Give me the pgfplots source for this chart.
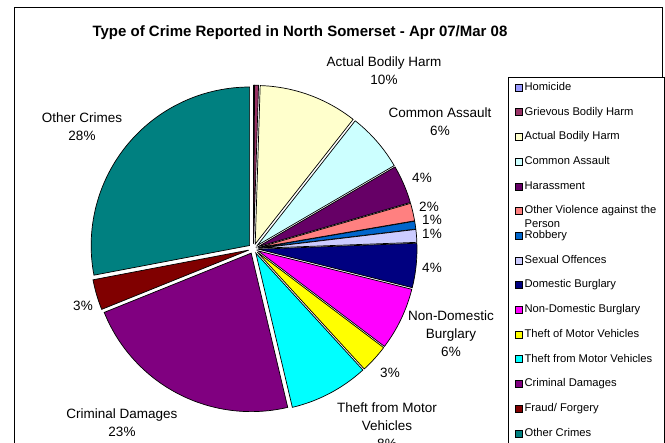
\documentclass[border=0pt]{standalone}
\usepackage{pgfplots}
\pgfplotsset{compat=1.18}
\usepackage{pgfplotstable}
\usepackage{fontspec}
\setmainfont{Liberation Sans}

\definecolor{c0}{HTML}{9999FF}
\definecolor{c1}{HTML}{993366}
\definecolor{c2}{HTML}{FFFFCC}
\definecolor{c3}{HTML}{CCFFFF}
\definecolor{c4}{HTML}{660066}
\definecolor{c5}{HTML}{FF8080}
\definecolor{c6}{HTML}{0066CC}
\definecolor{c7}{HTML}{CCCCFF}
\definecolor{c8}{HTML}{000080}
\definecolor{c9}{HTML}{FF00FF}
\definecolor{c10}{HTML}{FFFF00}
\definecolor{c11}{HTML}{00FFFF}
\definecolor{c12}{HTML}{800080}
\definecolor{c13}{HTML}{800000}
\definecolor{c14}{HTML}{008080}

% share of reported crime, percent
\pgfplotstableread[col sep=comma]{
idx,value
0,0.1
1,0.4
2,10.1
3,6.0
4,3.9
5,1.8
6,0.8
7,1.3
8,4.5
9,6.4
10,2.9
11,8.1
12,22.6
13,3.1
14,28.0
}\crimedata

\def\cum{0}
\pgfplotsforeachungrouped \i in {0,...,14}{%
  \pgfplotstablegetelem{\i}{value}\of\crimedata
  \let\val\pgfplotsretval
  \pgfmathsetmacro\angA{90-3.6*\cum}%
  \pgfmathsetmacro\cum{\cum+\val}%
  \pgfmathsetmacro\angB{90-3.6*\cum}%
  \pgfmathsetmacro\angM{(\angA+\angB)/2}%
  \pgfmathsetmacro\cx{253.5+5*cos(\angM)}%
  \pgfmathsetmacro\cy{194.3+5*sin(\angM)}%
  \expandafter\xdef\csname angA\i\endcsname{\angA}%
  \expandafter\xdef\csname angB\i\endcsname{\angB}%
  \expandafter\xdef\csname cx\i\endcsname{\cx}%
  \expandafter\xdef\csname cy\i\endcsname{\cy}%
}

\newcommand\lbl{\fontsize{13.5}{18}\selectfont}

\begin{document}
\begin{tikzpicture}
\useasboundingbox (0,0) rectangle (665pt,443pt);
\clip (0,0) rectangle (665pt,443pt);
\begin{axis}[
  at={(0,0)}, anchor=south west,
  scale only axis, width=665pt, height=443pt,
  xmin=0, xmax=665, ymin=0, ymax=443,
  hide axis,
  legend image code/.code={\draw[#1] (0pt,-3.5pt) rectangle (7pt,3.5pt);},
  legend cell align=left,
  legend style={at={(axis cs:508,366)}, anchor=north west,
    draw=black, line width=0.8pt, fill=white,
    font=\fontsize{11.2}{13.5}\selectfont,
    inner xsep=7pt, inner ysep=4.5pt, row sep=13.2pt,
    nodes={inner xsep=1.5pt, inner ysep=0.5pt, text height=8pt, text depth=2.5pt}},
]
\pgfplotsinvokeforeach{0,...,14}{%
  \edef\doslice{\noexpand\addplot[draw=black, line width=0.7pt, fill=c#1,
    domain=\csname angB#1\endcsname:\csname angA#1\endcsname, samples=60]
    ({\csname cx#1\endcsname+158.5*cos(x)}, {\csname cy#1\endcsname+158.5*sin(x)})
    -- (axis cs:\csname cx#1\endcsname,\csname cy#1\endcsname) -- cycle;}%
  \doslice
}
\legend{Homicide, Grievous Bodily Harm, Actual Bodily Harm, Common Assault, Harassment,
  {\smash{\vtop{\hbox{Other Violence against the}\hbox{Person}}}},
  Robbery, Sexual Offences, Domestic Burglary, Non-Domestic Burglary,
  Theft of Motor Vehicles, Theft from Motor Vehicles, Criminal Damages,
  Fraud/ Forgery, Other Crimes}

\draw[black, line width=0.8pt] (axis cs:14,436) rectangle (axis cs:662,-20);

\node[font=\bfseries\fontsize{15}{18}\selectfont] at (axis cs:300,410.5)
  {Type of Crime Reported in North Somerset - Apr 07/Mar 08};

\node[font=\lbl, align=center] at (axis cs:384,372.5) {Actual Bodily Harm\\10\%};
\node[font=\lbl, align=center] at (axis cs:440,321.5) {Common Assault\\6\%};
\node[font=\lbl] at (axis cs:422,265) {4\%};
\node[font=\lbl] at (axis cs:429,236.5) {2\%};
\node[font=\lbl] at (axis cs:432,223) {1\%};
\node[font=\lbl] at (axis cs:432,209.5) {1\%};
\node[font=\lbl] at (axis cs:432,175) {4\%};
\node[font=\lbl, align=center] at (axis cs:451,109) {Non-Domestic\\Burglary\\6\%};
\node[font=\lbl] at (axis cs:390,70) {3\%};
\node[font=\lbl, align=center] at (axis cs:387,17) {Theft from Motor\\Vehicles\\8\%};
\node[font=\lbl, align=center] at (axis cs:122,20.5) {Criminal Damages\\23\%};
\node[font=\lbl] at (axis cs:83,137) {3\%};
\node[font=\lbl, align=center] at (axis cs:82,316.5) {Other Crimes\\28\%};
\end{axis}
\end{tikzpicture}
\end{document}
